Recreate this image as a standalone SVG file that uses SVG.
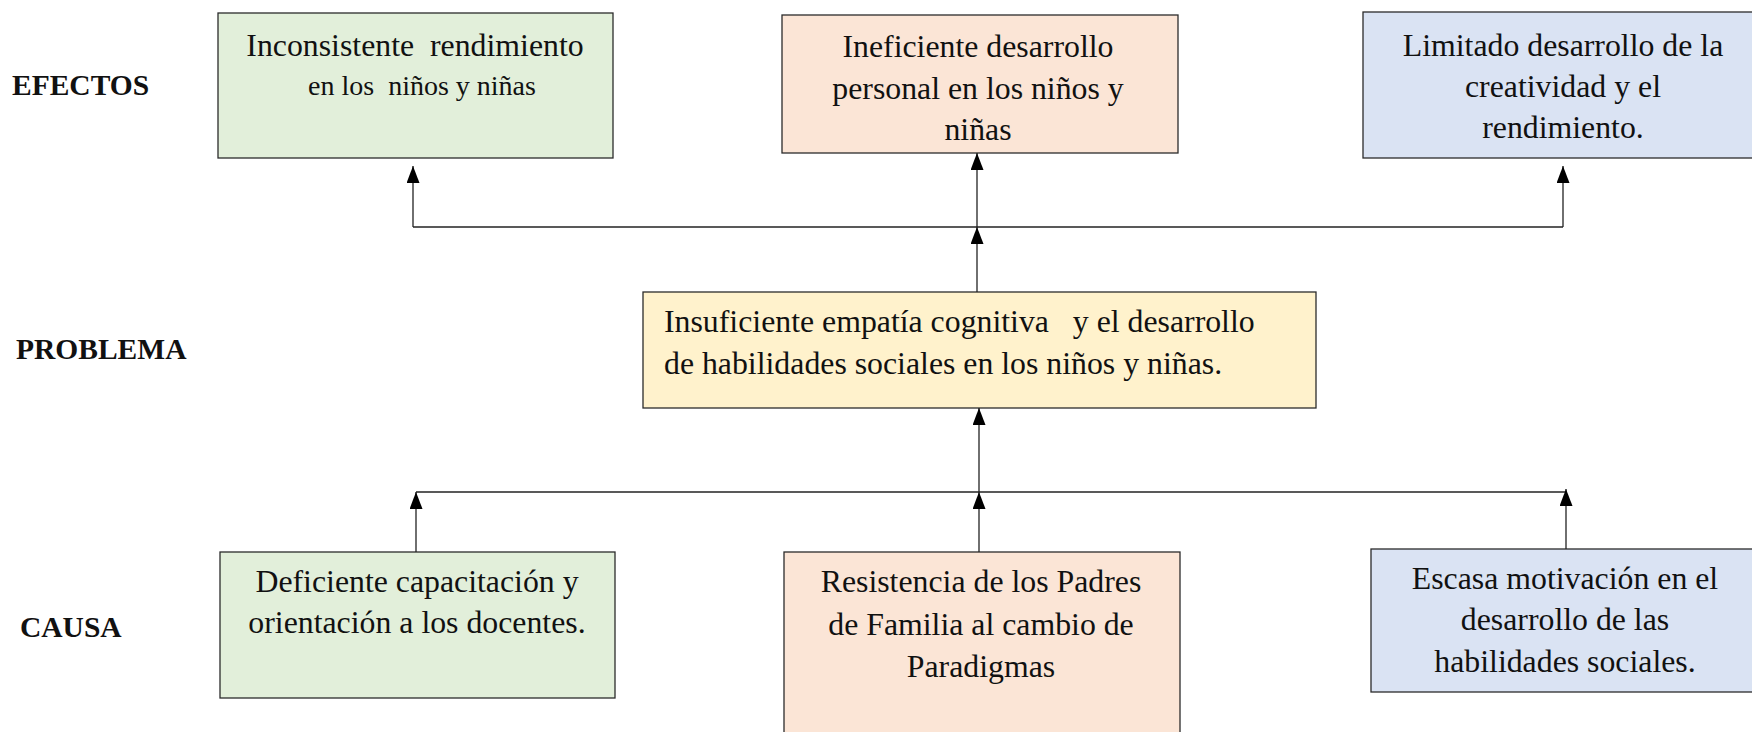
<svg xmlns="http://www.w3.org/2000/svg" width="1752" height="732" viewBox="0 0 1752 732">
<style>
.box{stroke:#2b2b2b;stroke-width:1.3}
.g{fill:#E2EFDA}.p{fill:#FBE5D6}.b{fill:#DAE3F3}.y{fill:#FFF2CC}
.t{font-family:"Liberation Serif","Times New Roman",serif;font-size:31.8px;fill:#111;text-anchor:middle;white-space:pre}
.tl{text-anchor:start}
.lab{font-family:"Liberation Serif","Times New Roman",serif;font-size:29.5px;font-weight:bold;fill:#111}
.c{stroke:#222;stroke-width:1.3;fill:none}
</style>
<defs>
<marker id="ah" viewBox="0 0 17 13" refX="17" refY="6.5" markerWidth="17" markerHeight="13" markerUnits="userSpaceOnUse" orient="auto">
<path d="M0,0 L17,6.5 L0,13 Z" fill="#000"/>
</marker>
</defs>
<rect width="1752" height="732" fill="#fff"/>

<g id="label-efectos"><text class="lab" x="12" y="95">EFECTOS</text></g>
<g id="label-problema"><text class="lab" x="16" y="359">PROBLEMA</text></g>
<g id="label-causa"><text class="lab" x="20" y="637">CAUSA</text></g>

<g id="efecto1">
<rect class="box g" x="218" y="13" width="395" height="145"/>
<text class="t" x="415" y="56">Inconsistente  rendimiento</text>
<text class="t" x="422" y="95" style="font-size:28px">en los  niños y niñas</text>
</g>
<g id="efecto2">
<rect class="box p" x="782" y="15" width="396" height="138"/>
<text class="t" x="978" y="57">Ineficiente desarrollo</text>
<text class="t" x="978" y="99">personal en los niños y</text>
<text class="t" x="978" y="140">niñas</text>
</g>
<g id="efecto3">
<rect class="box b" x="1363" y="12" width="400" height="146"/>
<text class="t" x="1563" y="56">Limitado desarrollo de la</text>
<text class="t" x="1563" y="97">creatividad y el</text>
<text class="t" x="1563" y="138">rendimiento.</text>
</g>

<g id="problema">
<rect class="box y" x="643" y="292" width="673" height="116"/>
<text class="t tl" x="664" y="332">Insuficiente empatía cognitiva   y el desarrollo</text>
<text class="t tl" x="664" y="374">de habilidades sociales en los niños y niñas.</text>
</g>

<g id="causa1">
<rect class="box g" x="220" y="552" width="395" height="146"/>
<text class="t" x="417" y="592">Deficiente capacitación y</text>
<text class="t" x="417" y="633">orientación a los docentes.</text>
</g>
<g id="causa2">
<rect class="box p" x="784" y="552" width="396" height="190"/>
<text class="t" x="981" y="592">Resistencia de los Padres</text>
<text class="t" x="981" y="635">de Familia al cambio de</text>
<text class="t" x="981" y="677">Paradigmas</text>
</g>
<g id="causa3">
<rect class="box b" x="1371" y="549" width="392" height="143"/>
<text class="t" x="1565" y="589">Escasa motivación en el</text>
<text class="t" x="1565" y="630">desarrollo de las</text>
<text class="t" x="1565" y="672">habilidades sociales.</text>
</g>

<g id="connectors">
<polyline class="c" points="413,227 1563,227"/>
<line class="c" x1="413" y1="227" x2="413" y2="166" marker-end="url(#ah)"/>
<line class="c" x1="977" y1="227" x2="977" y2="153" marker-end="url(#ah)"/>
<line class="c" x1="1563" y1="227" x2="1563" y2="166" marker-end="url(#ah)"/>
<line class="c" x1="977" y1="292" x2="977" y2="227" marker-end="url(#ah)"/>
<line class="c" x1="979" y1="492" x2="979" y2="408" marker-end="url(#ah)"/>
<polyline class="c" points="416,492 1566,492"/>
<line class="c" x1="416" y1="552" x2="416" y2="492" marker-end="url(#ah)"/>
<line class="c" x1="979" y1="552" x2="979" y2="492" marker-end="url(#ah)"/>
<line class="c" x1="1566" y1="549" x2="1566" y2="489" marker-end="url(#ah)"/>
</g>
</svg>
